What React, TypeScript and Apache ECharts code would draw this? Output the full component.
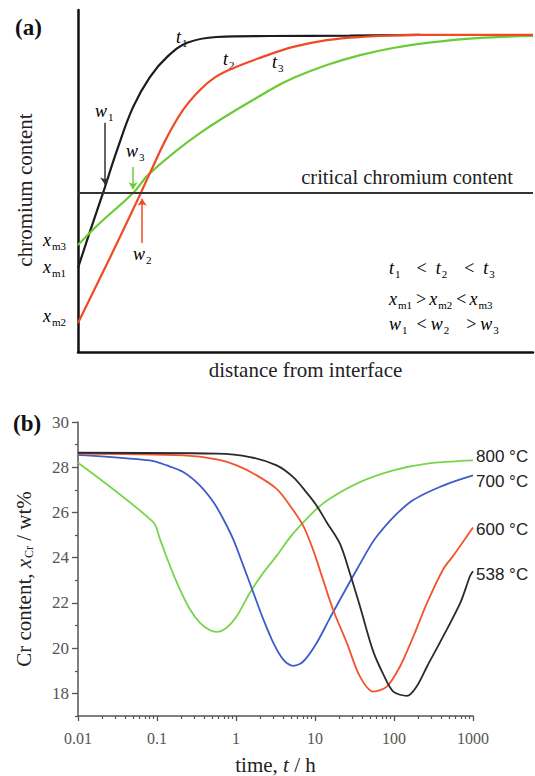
import React, { useEffect, useRef } from "react";
import * as echarts from "echarts";

const SERIF = "'Liberation Serif', serif";
const SANS = "'Liberation Sans', sans-serif";

// ---------------- Panel (a): schematic chromium profiles (arbitrary units) ----------------
const distT1 = [0, 2.6, 5.5, 8.6, 12.1, 15.8, 19.6, 24.0, 30.5, 42.2, 59.8, 75.2];
const crT1 = [24.6, 35.1, 46.5, 59.1, 71.6, 80.4, 86.3, 90.4, 92.1, 92.4, 92.5, 92.7];
const distT2 = [0, 7.0, 13.6, 15.8, 19.6, 23.1, 26.8, 30.1, 34.1, 40.0, 47.3, 54.7, 62.0, 74.5, 100];
const crT2 = [8.5, 27.5, 45.9, 52.3, 62.9, 70.8, 76.6, 80.3, 83.0, 86.0, 89.2, 91.2, 92.1, 92.7, 92.7];
const distT3 = [0, 4.8, 12.1, 15.8, 26.8, 42.2, 47.3, 54.7, 62.0, 69.2, 76.7, 87.7, 100];
const crT3 = [31.3, 37.7, 46.5, 52.3, 64.0, 76.6, 80.1, 83.9, 86.8, 88.9, 90.4, 91.8, 92.4];
const criticalContent = 46.5;
// arrows: [distance, from, to]
const arrowW1 = [5.9, 67, 49.0];
const arrowW3 = [12.1, 54.1, 47.6];
const arrowW2 = [14.1, 31.9, 44.8];
const xmSubs = ["m3", "m1", "m2"];

// ---------------- Panel (b): Cr content vs time ----------------
const time800 = [0.01, 0.089, 0.109, 0.146, 0.195, 0.262, 0.35, 0.47, 0.57, 0.76, 1.02, 1.5, 2.22, 3.27, 4.83, 7.1, 10.5, 15.5, 37, 98, 262, 1000];
const cr800 = [28.2, 25.58, 24.82, 23.64, 22.6, 21.71, 21.12, 20.79, 20.72, 20.9, 21.41, 22.45, 23.34, 24.08, 24.9, 25.56, 26.16, 26.62, 27.34, 27.86, 28.16, 28.3];
const time700 = [0.01, 0.081, 0.133, 0.215, 0.35, 0.52, 0.69, 0.92, 1.24, 1.66, 2.22, 2.97, 3.97, 5.32, 7.1, 10.5, 15.5, 34, 61, 159, 420, 1000];
const cr700 = [28.55, 28.3, 28.08, 27.79, 27.19, 26.45, 25.71, 24.82, 23.64, 22.45, 21.27, 20.23, 19.49, 19.22, 19.41, 20.23, 21.34, 23.49, 24.96, 26.45, 27.19, 27.64];
const time600 = [0.01, 0.215, 0.57, 1.02, 1.83, 3.27, 4.83, 7.1, 9.4, 12.6, 16.9, 25.3, 37, 54.6, 81, 119, 176, 262, 420, 560, 1000];
const cr600 = [28.6, 28.52, 28.35, 28.08, 27.64, 27.04, 26.3, 25.41, 24.38, 23.04, 21.71, 20.23, 18.75, 18.08, 18.3, 19.19, 20.52, 22.0, 23.49, 24.08, 25.34];
const time538 = [0.01, 0.57, 1.5, 3.27, 5.3, 7.8, 10.5, 14.1, 20.8, 27.7, 37, 54, 72, 98, 146, 193, 262, 416, 690, 920, 1000];
const cr538 = [28.64, 28.6, 28.45, 28.08, 27.56, 26.89, 26.3, 25.56, 24.6, 23.3, 21.86, 19.9, 18.9, 18.08, 17.89, 18.3, 19.19, 20.5, 22.0, 23.2, 23.4];
const seriesNames = ["800 °C", "700 °C", "600 °C", "538 °C"];
const timeTickLabels = ["0.01", "0.1", "1", "10", "100", "1000"];
const crTickValues = [18, 20, 22, 24, 26, 28, 30];
const crMinorTicks = [17, 19, 21, 23, 25, 27, 29];
const timeDecades = [0.01, 0.1, 1, 10, 100];
const minorMultipliers = [2, 3, 4, 5, 6, 7, 8, 9];

const zip = (a: number[], b: number[]) => a.map((v, i) => [v, b[i]]);

const richBase = (main: number, sub: number, drop: number, color = "#222") => ({
  i: { fontFamily: SERIF, fontStyle: "italic", fontSize: main, lineHeight: main + 2, verticalAlign: "top", color },
  s: { fontFamily: SERIF, fontSize: sub, lineHeight: sub, padding: [drop, 0, 0, 1], verticalAlign: "bottom", color },
  n: { fontFamily: SERIF, fontSize: main, lineHeight: main + 2, verticalAlign: "top", color },
});

const App = () => {
  const ref = useRef<HTMLDivElement>(null);
  useEffect(() => {
    if (!ref.current) return;
    const chart = echarts.init(ref.current, undefined, { renderer: "svg" });
    const rich18 = richBase(18, 11, 15);
    const op = (l: number, r: number) => ({
      fontFamily: SERIF, fontSize: 18, lineHeight: 20, verticalAlign: "top", color: "#444", padding: [0, r, 0, l],
    });
    const relRich = { ...richBase(18, 11, 15, "#333"), a: op(16, 9), b: op(17, 9), c: op(4, 3), d: op(9, 4), e: op(17, 4) };
    const arrowLine = (a: number[]) => [
      { coord: [a[0], a[1]], symbol: "none" },
      { coord: [a[0], a[2]], symbol: "arrow" },
    ];
    const label = (x: number, y: number, text: string) => ({
      type: "text", x, y, silent: true, style: { text, rich: rich18 },
    });
    const minorTimes: number[] = [];
    timeDecades.forEach((d) => minorMultipliers.forEach((m) => minorTimes.push(Math.log10(d * m))));

    const colA = { black: "#1c1c1c", red: "#f04a25", green: "#6bcb35" };
    const colB = { green: "#79d44e", blue: "#3d5cc9", red: "#f2542d", black: "#2a2a2a" };
    const seriesB = [
      { name: seriesNames[0], data: zip(time800, cr800), color: colB.green, off: [0, -4] },
      { name: seriesNames[1], data: zip(time700, cr700), color: colB.blue, off: [0, 6] },
      { name: seriesNames[2], data: zip(time600, cr600), color: colB.red, off: [0, 2] },
      { name: seriesNames[3], data: zip(time538, cr538), color: colB.black, off: [0, 3] },
    ];
    const arrowMark = (a: number[], color: string) => ({
      silent: true, animation: false, symbolSize: 7,
      lineStyle: { color, width: 1.5, type: "solid" }, label: { show: false },
      data: [arrowLine(a)],
    });

    chart.setOption({
      animation: false,
      backgroundColor: "#fff",
      title: [
        { text: "(a)", left: 10, top: 11, textStyle: { fontFamily: SERIF, fontWeight: "bold", fontSize: 23, color: "#111" } },
        { text: "(b)", left: 8, top: 407, textStyle: { fontFamily: SERIF, fontWeight: "bold", fontSize: 23, color: "#111" } },
      ],
      grid: [
        { left: 78, right: 2, top: 10, height: 342 },
        { left: 78, width: 395, top: 422, height: 294 },
      ],
      xAxis: [
        {
          gridIndex: 0, type: "value", min: 0, max: 100,
          axisLine: { onZero: false, lineStyle: { color: "#111", width: 2.5 } },
          axisTick: { show: false }, axisLabel: { show: false }, splitLine: { show: false },
          name: "distance from interface", nameLocation: "middle", nameGap: 7,
          nameTextStyle: { fontFamily: SERIF, fontSize: 21, color: "#222" },
        },
        {
          gridIndex: 1, type: "log", logBase: 10, min: 0.01, max: 1000, position: "bottom",
          axisLine: { onZero: false, lineStyle: { color: "#555", width: 1.5 } },
          axisTick: { show: true, length: 5, lineStyle: { color: "#555", width: 1.3 } },
          axisLabel: {
            fontFamily: SERIF, fontSize: 16, color: "#555", margin: 14,
            formatter: (v: number) => timeTickLabels[Math.round(Math.log10(v)) + 2] ?? "",
          },
          splitLine: { show: false },
          name: "{n|time, }{i|t}{n| / h}", nameLocation: "middle", nameGap: 38,
          nameTextStyle: {
            rich: {
              n: { fontFamily: SERIF, fontSize: 21, color: "#222" },
              i: { fontFamily: SERIF, fontStyle: "italic", fontSize: 21, color: "#222" },
            },
          },
        },
        {
          gridIndex: 1, type: "value", min: -2, max: 3, position: "bottom",
          axisLine: { show: false, onZero: false }, axisLabel: { show: false }, splitLine: { show: false },
          axisTick: { show: true, length: 3, customValues: minorTimes, lineStyle: { color: "#555", width: 1.2 } },
        },
      ],
      yAxis: [
        {
          gridIndex: 0, type: "value", min: 0, max: 100, position: "left",
          axisLine: { onZero: false, lineStyle: { color: "#111", width: 2.5 } },
          axisTick: { show: false }, splitLine: { show: false }, axisLabel: { show: false },
          name: "chromium content", nameLocation: "middle", nameGap: 43, nameRotate: 90,
          nameTextStyle: { fontFamily: SERIF, fontSize: 21, color: "#222", padding: [0, 0, 0, -18] },
        },
        {
          gridIndex: 1, type: "value", min: 17, max: 30, position: "left",
          axisLine: { onZero: false, lineStyle: { color: "#555", width: 1.5 } },
          axisTick: { show: true, length: 6, customValues: crTickValues, lineStyle: { color: "#555", width: 1.3 } },
          axisLabel: { customValues: crTickValues, fontFamily: SERIF, fontSize: 17, color: "#555", margin: 9 },
          splitLine: { show: false },
          name: "{n|Cr content, }{i|x}{s|Cr}{n| / wt%}", nameLocation: "middle", nameGap: 43, nameRotate: 90,
          nameTextStyle: {
            padding: [0, 0, 0, -20],
            rich: {
              n: { fontFamily: SERIF, fontSize: 21, lineHeight: 22, verticalAlign: "top", color: "#222" },
              i: { fontFamily: SERIF, fontStyle: "italic", fontSize: 21, lineHeight: 22, verticalAlign: "top", color: "#222" },
              s: { fontFamily: SERIF, fontSize: 12, lineHeight: 12, padding: [12, 0, 0, 1], verticalAlign: "bottom", color: "#222" },
            },
          },
        },
        {
          gridIndex: 1, type: "value", min: 17, max: 30, position: "left",
          axisLine: { show: false, onZero: false }, axisLabel: { show: false }, splitLine: { show: false },
          axisTick: { show: true, length: 3, customValues: crMinorTicks, lineStyle: { color: "#555", width: 1.2 } },
        },
      ],
      series: [
        {
          type: "line", name: "critical", xAxisIndex: 0, yAxisIndex: 0, data: [],
          markLine: {
            silent: true, symbol: "none", animation: false,
            lineStyle: { color: "#333", width: 2, type: "solid" },
            label: {
              show: true, position: "insideEndTop", formatter: "critical chromium content",
              fontFamily: SERIF, fontSize: 20.5, color: "#222", distance: [20, 5],
            },
            data: [{ yAxis: criticalContent }],
          },
        },
        {
          type: "line", name: "t1", xAxisIndex: 0, yAxisIndex: 0, data: zip(distT1, crT1),
          smooth: 0.4, showSymbol: false,
          lineStyle: { color: colA.black, width: 2.2 }, itemStyle: { color: colA.black },
          markLine: arrowMark(arrowW1, "#333"),
        },
        {
          type: "line", name: "t3", xAxisIndex: 0, yAxisIndex: 0, data: zip(distT3, crT3),
          smooth: 0.4, showSymbol: false,
          lineStyle: { color: colA.green, width: 2.2 }, itemStyle: { color: colA.green },
          markLine: arrowMark(arrowW3, colA.green),
        },
        {
          type: "line", name: "t2", xAxisIndex: 0, yAxisIndex: 0, data: zip(distT2, crT2),
          smooth: 0.4, showSymbol: false,
          lineStyle: { color: colA.red, width: 2.2 }, itemStyle: { color: colA.red },
          markLine: arrowMark(arrowW2, colA.red),
        },
        ...seriesB.map((s) => ({
          type: "line", name: s.name, xAxisIndex: 1, yAxisIndex: 1, data: s.data,
          smooth: 0.3, showSymbol: false,
          lineStyle: { color: s.color, width: 1.8 }, itemStyle: { color: s.color },
          endLabel: {
            show: true, formatter: s.name, fontFamily: SANS, fontSize: 17, color: "#222",
            distance: 3, offset: s.off,
          },
        })),
      ],
      graphic: [
        label(176, 28, "{i|t}{s|1}"),
        label(223, 50, "{i|t}{s|2}"),
        label(272, 53, "{i|t}{s|3}"),
        label(95, 102, "{i|w}{s|1}"),
        label(126, 142, "{i|w}{s|3}"),
        label(133, 245, "{i|w}{s|2}"),
        label(43, 231, `{i|x}{s|${xmSubs[0]}}`),
        label(43, 258, `{i|x}{s|${xmSubs[1]}}`),
        label(43, 307, `{i|x}{s|${xmSubs[2]}}`),
        { type: "text", x: 389, y: 259, silent: true, style: { text: "{i|t}{s|1}{a|<}{i|t}{s|2}{b|<}{i|t}{s|3}", rich: relRich } },
        { type: "text", x: 389, y: 290, silent: true, style: { text: "{i|x}{s|m1}{c|>}{i|x}{s|m2}{c|<}{i|x}{s|m3}", rich: relRich } },
        { type: "text", x: 389, y: 315, silent: true, style: { text: "{i|w}{s|1}{d|<}{i|w}{s|2}{e|>}{i|w}{s|3}", rich: relRich } },
      ],
    });
    return () => chart.dispose();
  }, []);
  return <div ref={ref} style={{ position: "fixed", left: 0, top: 0, width: 535, height: 776, background: "#fff" }} />;
};

export default App;
